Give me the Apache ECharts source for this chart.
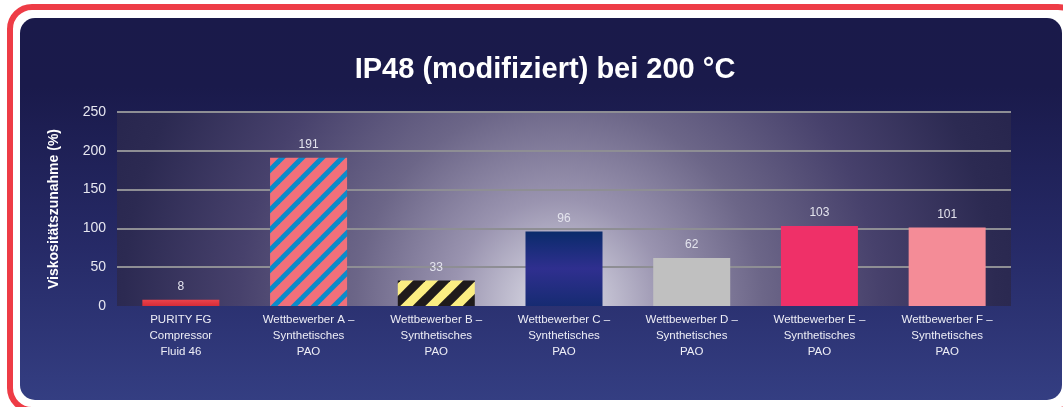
<!DOCTYPE html>
<html>
<head>
<meta charset="utf-8">
<title>IP48 (modifiziert) bei 200 °C</title>
<script src="https://cdn.jsdelivr.net/npm/echarts@6/dist/echarts.min.js"></script>
<style>
  html, body { margin: 0; padding: 0; background: #fff; }
  #myChart { width: 1063px; height: 407px; }
</style>
</head>
<body>
<div id="myChart"></div>
<script>
// Daten aus dem Diagramm
var categories = [
  "PURITY FG\nCompressor\nFluid 46",
  "Wettbewerber A –\nSynthetisches\nPAO",
  "Wettbewerber B –\nSynthetisches\nPAO",
  "Wettbewerber C –\nSynthetisches\nPAO",
  "Wettbewerber D –\nSynthetisches\nPAO",
  "Wettbewerber E –\nSynthetisches\nPAO",
  "Wettbewerber F –\nSynthetisches\nPAO"
];
var values = [8, 191, 33, 96, 62, 103, 101];
var yTicks = [0, 50, 100, 150, 200, 250];

// schraege Streifen fuer die Muster-Balken
function stripes(bg, fg, size, width) {
  var c = document.createElement("canvas");
  c.width = size;
  c.height = size;
  var ctx = c.getContext("2d");
  ctx.fillStyle = bg;
  ctx.fillRect(0, 0, size, size);
  ctx.strokeStyle = fg;
  ctx.lineWidth = width;
  for (var k = -1; k <= 1; k++) {
    // Linie ueber die Kachel hinaus verlaengern, sonst fehlen Ecken
    ctx.beginPath();
    ctx.moveTo(k * size - size, 2 * size);
    ctx.lineTo(k * size + 2 * size, -size);
    ctx.stroke();
  }
  return { image: c, repeat: "repeat" };
}

var barColors = [
  new echarts.graphic.LinearGradient(0, 0, 0, 1, [
    { offset: 0, color: "#ea434b" },
    { offset: 1, color: "#d62c38" }
  ]),
  stripes("#f1707a", "#0b8bc9", 20, 5),
  stripes("#fbee82", "#1f1b1b", 25, 9),
  new echarts.graphic.LinearGradient(0, 0, 0, 1, [
    { offset: 0, color: "#0a2b6b" },
    { offset: 0.5, color: "#2f2f8f" },
    { offset: 1, color: "#162b72" }
  ]),
  "#c0c0c0",
  "#ef3068",
  "#f48c97"
];

var gridLineColors = yTicks.map(function (t) {
  return t === 0 ? "rgba(0,0,0,0)" : "#8e8e94";
});

var myChart = echarts.init(document.getElementById("myChart"));

var option = {
  animation: false,
  title: {
    text: "IP48 (modifiziert) bei 200 °C",
    left: 540,
    top: 50,
    textAlign: "center",
    textStyle: {
      color: "#ffffff",
      fontSize: 29,
      fontWeight: "bold",
      fontFamily: "Liberation Sans, Arial, sans-serif"
    }
  },
  graphic: [
    {
      type: "rect",
      z: -20,
      silent: true,
      shape: { x: 10, y: 7, width: 1070, height: 403, r: 22 },
      style: { fill: "none", stroke: "#ee3c46", lineWidth: 6 }
    },
    {
      type: "rect",
      z: -10,
      silent: true,
      shape: { x: 20, y: 18, width: 1042, height: 382, r: 15 },
      style: {
        fill: new echarts.graphic.LinearGradient(0, 0, 0, 1, [
          { offset: 0, color: "#1a1a4a" },
          { offset: 0.18, color: "#1a1a4b" },
          { offset: 0.6, color: "#262a67" },
          { offset: 1, color: "#343e82" }
        ])
      }
    }
  ],
  grid: {
    left: 117,
    right: 52,
    top: 112,
    bottom: 101,
    show: true,
    borderWidth: 0,
    backgroundColor: new echarts.graphic.RadialGradient(0.495, 1, 2.5, [
      { offset: 0, color: "#e2e2ec" },
      { offset: 0.08, color: "#c8c6d6" },
      { offset: 0.22, color: "#9a94b0" },
      { offset: 0.42, color: "#6c6688" },
      { offset: 0.66, color: "#47416c" },
      { offset: 0.9, color: "#2c2a52" },
      { offset: 1, color: "#28264e" }
    ])
  },
  xAxis: {
    type: "category",
    data: categories,
    axisLine: { show: false },
    axisTick: { show: false },
    axisLabel: {
      interval: 0,
      margin: 6,
      color: "#eeeef6",
      fontSize: 11.5,
      lineHeight: 16,
      fontFamily: "Liberation Sans, Arial, sans-serif"
    }
  },
  yAxis: {
    type: "value",
    min: yTicks[0],
    max: yTicks[yTicks.length - 1],
    interval: 50,
    name: "Viskositätszunahme (%)",
    nameLocation: "middle",
    nameRotate: 90,
    nameGap: 56,
    nameTextStyle: {
      color: "#ffffff",
      fontSize: 14,
      fontWeight: "bold",
      fontFamily: "Liberation Sans, Arial, sans-serif"
    },
    axisLine: { show: false },
    axisTick: { show: false },
    axisLabel: {
      margin: 11,
      color: "#e6e6f0",
      fontSize: 14,
      fontFamily: "Liberation Sans, Arial, sans-serif"
    },
    splitLine: {
      lineStyle: { color: gridLineColors, width: 2 }
    }
  },
  series: [
    {
      type: "bar",
      barWidth: 77,
      data: values.map(function (v, i) {
        return { value: v, itemStyle: { color: barColors[i] } };
      }),
      label: {
        show: true,
        position: "top",
        distance: 7,
        color: "#e4e4ee",
        fontSize: 12,
        fontFamily: "Liberation Sans, Arial, sans-serif"
      }
    }
  ]
};

myChart.setOption(option);
</script>
</body>
</html>
